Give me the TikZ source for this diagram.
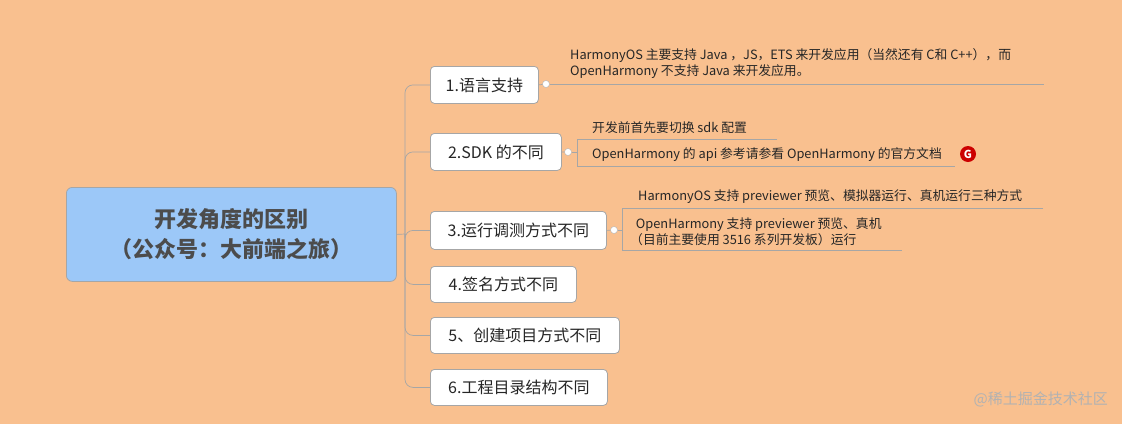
\documentclass[tikz,border=0pt]{standalone}
\usepackage{fontspec}
\setmainfont{Noto Sans CJK SC}
\begin{document}
\begin{tikzpicture}[x=1pt,y=-1pt,
  kid/.style={draw=gray!70,fill=white,rounded corners=4pt,line width=0.8pt,anchor=north west,inner sep=0pt,font=\fontsize{16}{18}\selectfont,text=black!85},
  leaf/.style={anchor=west,inner sep=0pt,font=\fontsize{12.8}{16}\selectfont,align=left,text=black!85},
  ln/.style={draw=gray!70,line width=0.7pt},
  knob/.style={circle,draw=gray!60,fill=white,inner sep=0pt,minimum size=7pt}]
\definecolor{peach}{HTML}{F9C08F}
\definecolor{rootblue}{HTML}{9CC8F8}
\fill[peach] (0,0) rectangle (1122,424);
\useasboundingbox (0,0) rectangle (1122,424);
% root
\node[draw=gray!70,fill=rootblue,rounded corners=6pt,line width=0.8pt,minimum width=330pt,minimum height=94pt,anchor=north west,align=center,font=\fontsize{22}{30}\bfseries\selectfont,text=black!70] (root) at (66,187) {开发角度的区别\\（公众号：大前端之旅）};
% children
\foreach \n/\x/\y/\w/\h/\t in {a/430/66/108/37/1.语言支持, b/430/133/131/37/2.SDK 的不同, c/430/211/176/38/3.运行调测方式不同, d/430/266/146/36/4.签名方式不同, e/430/317/189/36/5、创建项目方式不同, f/430/369/177/36/6.工程目录结构不同}
  \node[kid,minimum width=\w pt,minimum height=\h pt] (\n) at (\x,\y) {\t};
\coordinate (j) at (405,234);
\draw[ln] (root.east) -- (j);
\foreach \n in {a,b,c,d,e,f}
  \draw[ln,rounded corners=8pt] (j) -- (j |- \n.west) -- (\n.west);
% knobs
\node[knob] (ka) at (546,84) {};
\node[knob] (kb) at (568,152) {};
\node[knob] (kc) at (614,230) {};
\foreach \n/\k in {a/ka,b/kb,c/kc} \draw[ln] (\n.east) -- (\k);
% leaf 1
\node[leaf] (t1) at (570,64) {HarmonyOS 主要支持 Java ，JS，ETS 来开发应用（当然还有 C和 C++），而\\OpenHarmony 不支持 Java 来开发应用。};
\coordinate (e1) at (1044,84);
\draw[ln] (ka) -- (e1);
% leaf 2
\node[leaf] (t2a) at (592,128) {开发前首先要切换 sdk 配置};
\node[leaf] (t2b) at (592,155) {OpenHarmony 的 api 参考请参看 OpenHarmony 的官方文档};
\node[circle,fill=red!80!black,text=white,inner sep=0pt,minimum size=16pt,font=\bfseries\fontsize{11}{11}\selectfont] (g) at (968,154) {G};
\coordinate (b1) at (577,139); \coordinate (b1e) at (777,139);
\coordinate (b2) at (577,166); \coordinate (b2e) at (955,166);
\draw[ln] (kb) -- (kb -| b1);
\draw[ln] (b1e) -- (b1) -- (b2) -- (b2e);
% leaf 3
\node[leaf] (t3a) at (638,197) {HarmonyOS 支持 previewer 预览、模拟器运行、真机运行三种方式};
\node[leaf] (t3b) at (630,232) {\ \ OpenHarmony 支持 previewer 预览、真机\\（目前主要使用 3516 系列开发板）运行};
\coordinate (c1) at (622,208); \coordinate (c1e) at (1043,208);
\coordinate (c2) at (622,250); \coordinate (c2e) at (902,250);
\draw[ln] (kc) -- (kc -| c1);
\draw[ln] (c1e) -- (c1) -- (c2) -- (c2e);
% watermark
\node[anchor=east,inner sep=0pt,font=\fontsize{15}{16}\selectfont,text=gray!60] (wm) at (1108,399) {@稀土掘金技术社区};
\end{tikzpicture}
\end{document}
